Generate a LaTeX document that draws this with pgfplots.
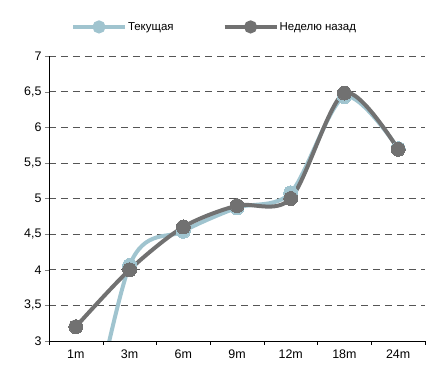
\documentclass[border=0pt]{standalone}
\usepackage{fontspec}
\setmainfont{Liberation Sans}
\usepackage{pgfplots}
\pgfplotsset{compat=1.18}

\definecolor{curblue}{HTML}{A0C4CF}
\definecolor{weekgray}{HTML}{717171}
\definecolor{gridgray}{HTML}{555555}

% maturities: 1m 3m 6m 9m 12m 18m 24m at x = 0..6
\pgfplotstableread{
x  y
0  0.8
1  4.06
2  4.54
3  4.87
4  5.08
5  6.43
6  5.70
}\current
\pgfplotstableread{
x  y
0  3.20
1  4.00
2  4.60
3  4.90
4  5.00
5  6.48
6  5.69
}\weekago

\begin{document}
\begin{tikzpicture}
\begin{axis}[
  scale only axis,
  width=376bp, height=285bp,
  xmin=-0.5, xmax=6.5,
  ymin=3, ymax=7,
  axis x line*=bottom,
  axis y line*=left,
  xtick={0,...,6},
  xticklabels={1m,3m,6m,9m,12m,18m,24m},
  minor xtick={-0.5,0.5,...,6.5},
  major x tick style={draw=none},
  minor x tick style={black, thin},
  ytick={3,3.5,...,7},
  tick align=outside,
  minor tick length=4bp,
  major tick length=4bp,
  axis line style={black, thin},
  ymajorgrids,
  major grid style={gridgray, dash pattern=on 7bp off 5bp, line width=0.6pt},
  yticklabel style={/pgf/number format/.cd, fixed, use comma, precision=1},
  /pgf/number format/assume math mode=true,
  tick label style={font=\fontsize{12.5}{14}\selectfont, black},
  x tick label style={yshift=-1bp},
  legend columns=2,
  legend style={
    draw=none, fill=none,
    at={(axis description cs:0.058,1.102)}, anchor=west,
    font=\fontsize{11.5}{13}\selectfont,
    /tikz/every even column/.append style={column sep=48bp},
    inner sep=0pt,
    nodes={inner sep=1bp},
  },
  legend image code/.code={
    \draw[#1, mark=none] (0bp,0bp) -- (52bp,0bp);
    \fill[#1, mark=none] (26bp,0bp) circle (4.5bp);
  },
  legend cell align=left,
]
\addplot[curblue, line width=4bp, smooth, tension=0.5,
  mark=*, mark size=7bp, mark options={fill=curblue, draw=curblue, line width=0pt}]
  table[x=x, y=y] {\current};
\addlegendentry{Текущая}
\addplot[weekgray, line width=4bp, smooth, tension=0.5,
  mark=*, mark size=7bp, mark options={fill=weekgray, draw=weekgray, line width=0pt}]
  table[x=x, y=y] {\weekago};
\addlegendentry{Неделю назад}
\end{axis}
\pgfresetboundingbox
\path (-49bp,-26bp) rectangle (385bp,341bp);
\end{tikzpicture}
\end{document}
